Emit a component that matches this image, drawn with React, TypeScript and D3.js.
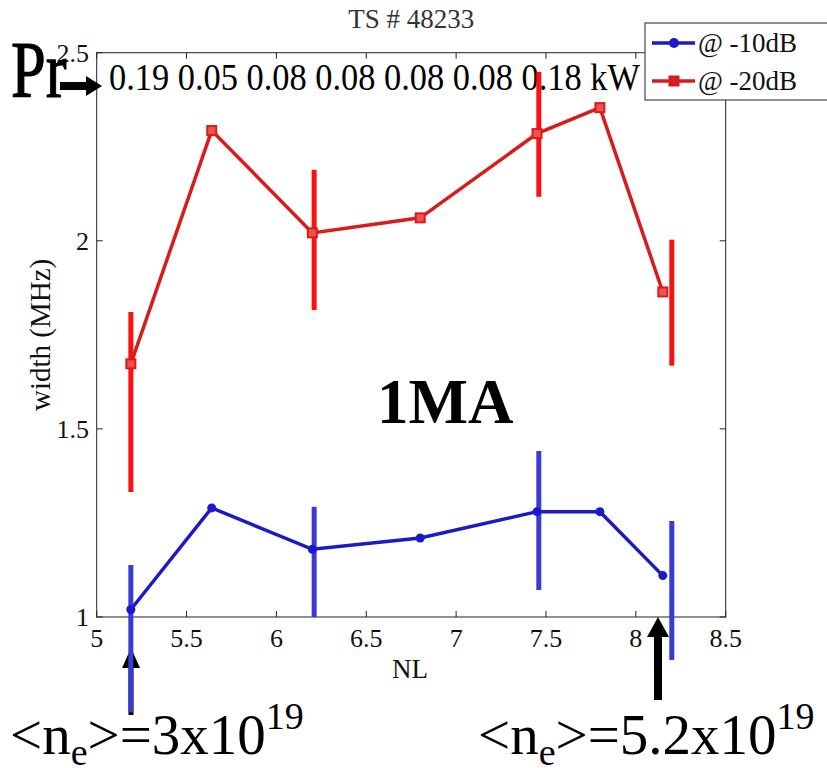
import React from "react";
import * as d3 from "d3";

const nl = [5.19, 5.64, 6.2, 6.8, 7.45, 7.8, 8.15];
const blueWidth = [1.02, 1.29, 1.18, 1.21, 1.28, 1.28, 1.11];
const redWidth = [1.673, 2.293, 2.021, 2.061, 2.285, 2.354, 1.864];
const errNL = [5.19, 6.21, 7.46, 8.2];
const blueErrLow = [0.747, 1.0, 1.072, 0.886];
const blueErrHigh = [1.138, 1.293, 1.441, 1.255];
const redErrLow = [1.332, 1.816, 2.117, 1.668];
const redErrHigh = [1.811, 2.189, 2.449, 2.003];
const xTicks = [5, 5.5, 6, 6.5, 7, 7.5, 8, 8.5];
const yTicks = [1, 1.5, 2, 2.5];
const prValues = ["0.19", "0.05", "0.08", "0.08", "0.08", "0.08", "0.18"];

const FONT = "'Liberation Serif', 'Times New Roman', serif";

export default function App() {
  const W = 827, H = 768;
  const x = d3.scaleLinear().domain([5, 8.5]).range([96.7, 725.7]);
  const y = d3.scaleLinear().domain([1, 2.5]).range([617, 52.7]);
  const line = d3.line<number>().x((_, i) => x(nl[i])).y((d) => y(d));
  const blue = "#1a1ac8";
  const blueBar = "#3a3ad6";
  const red = "#d81c1c";
  const redBar = "#ff1010";
  const [x0, x1] = x.range();
  const [yb, yt] = y.range();
  const tickLen = 6;

  return (
    <svg width={W} height={H} style={{ position: "absolute", left: 0, top: 0, background: "#fff", fontFamily: FONT }}>
      <rect x={0} y={0} width={W} height={H} fill="#fff" />
      {/* title */}
      <text x={(x0 + x1) / 2} y={28} fontSize={27} textAnchor="middle" fill="#333">TS # 48233</text>
      {/* axes box */}
      <rect x={x0} y={yt} width={x1 - x0} height={yb - yt} fill="none" stroke="#222" strokeWidth={1} />
      {xTicks.map((t) => (
        <g key={"xt" + t}>
          <line x1={x(t)} x2={x(t)} y1={yb} y2={yb - tickLen} stroke="#222" />
          <line x1={x(t)} x2={x(t)} y1={yt} y2={yt + tickLen} stroke="#222" />
          <text x={x(t)} y={647} fontSize={26} textAnchor="middle" fill="#111">{String(t)}</text>
        </g>
      ))}
      {yTicks.map((t) => (
        <g key={"yt" + t}>
          <line x1={x0} x2={x0 + tickLen} y1={y(t)} y2={y(t)} stroke="#222" />
          <line x1={x1} x2={x1 - tickLen} y1={y(t)} y2={y(t)} stroke="#222" />
          <text x={89} y={y(t) + 9} fontSize={26} textAnchor="end" fill="#111">{String(t)}</text>
        </g>
      ))}
      <text x={410} y={678} fontSize={27} textAnchor="middle" fill="#111">NL</text>
      <text transform={`translate(50,${(yb + yt) / 2}) rotate(-90)`} fontSize={29} textAnchor="middle" fill="#111">width (MHz)</text>

      {/* Pr annotation */}
      <text transform="translate(11,97) scale(0.78,1)" fontSize={80} fill="#000" stroke="#000" strokeWidth={1.2}>Pr</text>
      <path d="M60,82 L86,82 L86,76 L102,86 L86,96 L86,90 L60,90 Z" fill="#000" />
      <text x={109} y={90} fontSize={37} fill="#000" textLength={531} lengthAdjust="spacingAndGlyphs">
        {prValues.join(" ") + " kW"}
      </text>

      {/* arrows at bottom */}
      <path d="M131,648 L140,668 L133.5,668 L133.5,715 L128.5,715 L128.5,668 L122,668 Z" fill="#000" />
      <path d="M658,617 L669,637 L662,637 L662,700 L654,700 L654,637 L647,637 Z" fill="#000" />

      {/* lines */}
      <path d={line(redWidth) || ""} fill="none" stroke={red} strokeWidth={3.5} />
      <path d={line(blueWidth) || ""} fill="none" stroke={blue} strokeWidth={3.5} />

      {/* error bars */}
      {errNL.map((v, i) => (
        <g key={"eb" + i}>
          <line x1={x(v)} x2={x(v)} y1={y(redErrLow[i])} y2={y(redErrHigh[i])} stroke={redBar} strokeWidth={5} />
          <line x1={x(v)} x2={x(v)} y1={y(blueErrLow[i])} y2={y(blueErrHigh[i])} stroke={blueBar} strokeWidth={5} />
        </g>
      ))}

      {/* markers */}
      {redWidth.map((v, i) => (
        <rect key={"rm" + i} x={x(nl[i]) - 4.5} y={y(v) - 4.5} width={9} height={9} fill="#f05050" stroke={red} strokeWidth={2} />
      ))}
      {blueWidth.map((v, i) => (
        <circle key={"bm" + i} cx={x(nl[i])} cy={y(v)} r={4.5} fill={blue} />
      ))}

      {/* 1MA */}
      <text x={377} y={423} fontSize={63} fontWeight="bold" fill="#000">1MA</text>

      {/* legend */}
      <rect x={645} y={23} width={200} height={77} fill="#fff" stroke="#222" strokeWidth={1} />
      <line x1={652} x2={695} y1={43} y2={43} stroke={blue} strokeWidth={3.5} />
      <circle cx={674} cy={43} r={5} fill={blue} />
      <text x={698} y={52} fontSize={27} fill="#111">@ -10dB</text>
      <line x1={652} x2={695} y1={81} y2={81} stroke={red} strokeWidth={3.5} />
      <rect x={668.5} y={75.5} width={11} height={11} fill={red} />
      <text x={698} y={90} fontSize={27} fill="#111">@ -20dB</text>

      {/* density annotations */}
      <text x={10} y={754} fontSize={57} fill="#000">
        {"<n"}
        <tspan fontSize={38} dy={11}>e</tspan>
        <tspan dy={-11}>{">=3x10"}</tspan>
        <tspan fontSize={38} dy={-25}>19</tspan>
      </text>
      <text x={478} y={754} fontSize={57} fill="#000">
        {"<n"}
        <tspan fontSize={38} dy={11}>e</tspan>
        <tspan dy={-11}>{">=5.2x10"}</tspan>
        <tspan fontSize={38} dy={-25}>19</tspan>
      </text>
    </svg>
  );
}
